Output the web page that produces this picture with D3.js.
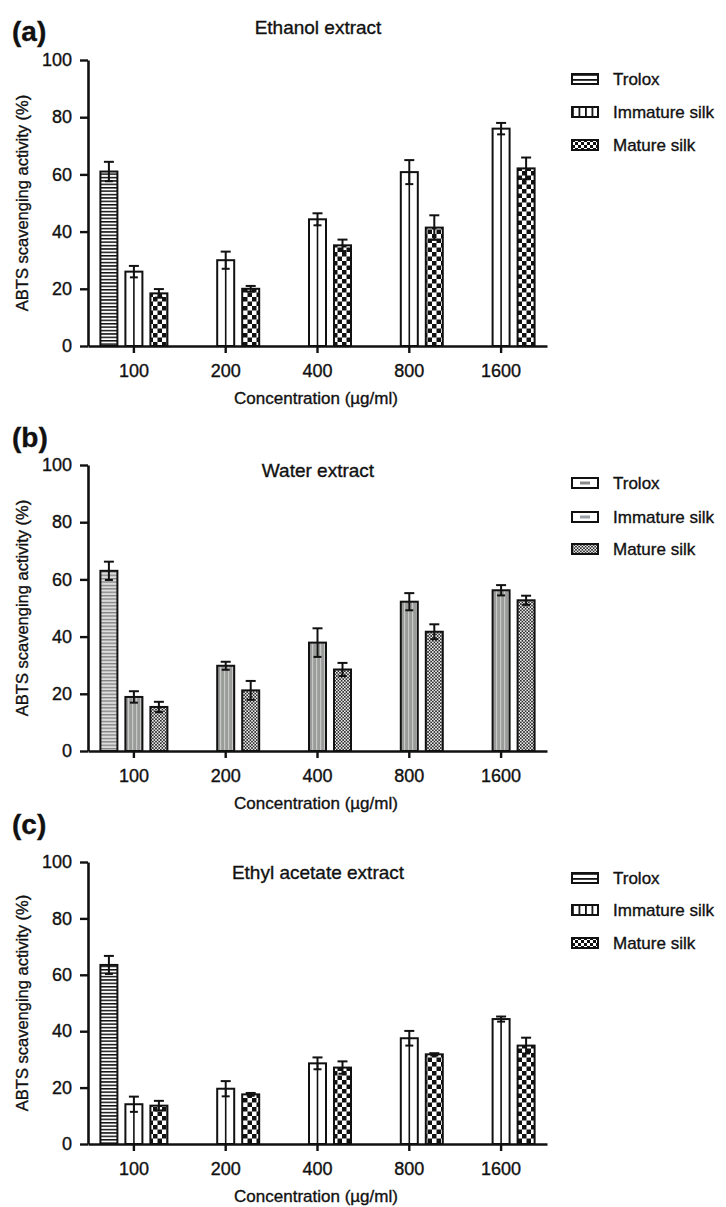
<!DOCTYPE html>
<html>
<head>
<meta charset="utf-8">
<script src="https://cdn.jsdelivr.net/npm/d3@7"></script>
<style>
  html, body { margin: 0; padding: 0; background: #fff; }
  svg { display: block; }
  text { font-family: "Liberation Sans", Arial, sans-serif; fill: #111; stroke: #111; stroke-width: 0.35px; }
</style>
</head>
<body>
<svg id="chart" width="726" height="1207"></svg>
<script>
// ---------------- DATA ----------------
const categories = ["100", "200", "400", "800", "1600"];
const series = ["Trolox", "Immature silk", "Mature silk"];
const yTicks = [0, 20, 40, 60, 80, 100];

// (a) Ethanol extract
const ethanolTrolox = [61, null, null, null, null];
const ethanolTroloxErr = [3.4, null, null, null, null];
const ethanolImmature = [26, 30, 44.3, 60.8, 76];
const ethanolImmatureErr = [2, 3, 2.1, 4.2, 2];
const ethanolMature = [18.4, 20, 35.2, 41.4, 62.1];
const ethanolMatureErr = [1.5, 1, 2, 4.3, 3.8];

// (b) Water extract
const waterTrolox = [63, null, null, null, null];
const waterTroloxErr = [3.2, null, null, null, null];
const waterImmature = [18.9, 29.8, 37.9, 52.2, 56.2];
const waterImmatureErr = [2, 1.4, 5, 3, 1.8];
const waterMature = [15.4, 21.2, 28.5, 41.7, 52.7];
const waterMatureErr = [1.8, 3.3, 2.3, 2.6, 1.6];

// (c) Ethyl acetate extract
const ethylTrolox = [63.5, null, null, null, null];
const ethylTroloxErr = [3.2, null, null, null, null];
const ethylImmature = [14.1, 19.6, 28.6, 37.5, 44.3];
const ethylImmatureErr = [2.7, 2.7, 2.1, 2.6, 0.9];
const ethylMature = [13.6, 17.6, 27.1, 31.8, 34.9];
const ethylMatureErr = [1.7, 0.5, 2.2, 0.4, 2.8];

const yLabel = "ABTS scavenging activity (%)";
const xLabel = "Concentration (µg/ml)";

// ---------------- PATTERNS ----------------
const svg = d3.select("#chart");
const defs = svg.append("defs");

function pat(id, w, h, build) {
  const p = defs.append("pattern").attr("id", id)
    .attr("patternUnits", "userSpaceOnUse").attr("width", w).attr("height", h);
  build(p);
}
pat("hstripe", 4, 3.4, p => {
  p.append("rect").attr("width", 4).attr("height", 3.4).attr("fill", "#fff");
  p.append("rect").attr("width", 4).attr("height", 1.5).attr("fill", "#111");
});
pat("hstripeLeg", 4, 5, p => {
  p.append("rect").attr("width", 4).attr("height", 5).attr("fill", "#fff");
  p.append("rect").attr("y", 0).attr("width", 4).attr("height", 1.8).attr("fill", "#111");
});
pat("vstripe", 6.5, 4, p => {
  p.append("rect").attr("width", 6.5).attr("height", 4).attr("fill", "#fff");
  p.append("rect").attr("width", 1.8).attr("height", 4).attr("fill", "#111");
});
pat("checker", 9, 9, p => {
  p.append("rect").attr("width", 9).attr("height", 9).attr("fill", "#fff");
  p.append("rect").attr("width", 4.5).attr("height", 4.5).attr("fill", "#111");
  p.append("rect").attr("x", 4.5).attr("y", 4.5).attr("width", 4.5).attr("height", 4.5).attr("fill", "#111");
});
pat("checkerLeg", 6, 6, p => {
  p.append("rect").attr("width", 6).attr("height", 6).attr("fill", "#fff");
  p.append("rect").attr("width", 3).attr("height", 3).attr("fill", "#111");
  p.append("rect").attr("x", 3).attr("y", 3).attr("width", 3).attr("height", 3).attr("fill", "#111");
});
pat("bTrolox", 4, 3.4, p => {
  p.append("rect").attr("width", 4).attr("height", 3.4).attr("fill", "#dcdcdc");
  p.append("rect").attr("width", 4).attr("height", 1.3).attr("fill", "#808080");
});
pat("bImm", 4, 4, p => {
  p.append("rect").attr("width", 4).attr("height", 4).attr("fill", "#9a9c9a");
  p.append("rect").attr("width", 1.2).attr("height", 4).attr("fill", "#c8c8c8");
});
pat("bMat", 3.2, 3.2, p => {
  p.append("rect").attr("width", 3.2).attr("height", 3.2).attr("fill", "#eeeeee");
  p.append("rect").attr("width", 1.6).attr("height", 1.6).attr("fill", "#2a2a2a");
  p.append("rect").attr("x", 1.6).attr("y", 1.6).attr("width", 1.6).attr("height", 1.6).attr("fill", "#2a2a2a");
});

// ---------------- PANELS ----------------
const panels = [
  { letter: "(a)", title: "Ethanol extract", top: 60, bottom: 346, titleY: 34, letterY: 41,
    values: [ethanolTrolox, ethanolImmature, ethanolMature],
    errors: [ethanolTroloxErr, ethanolImmatureErr, ethanolMatureErr],
    fills: ["url(#hstripe)", "#fff", "url(#checker)"], centerLine: true,
    legendY: [79, 112, 145], legendFills: ["url(#hstripeLeg)", "url(#vstripe)", "url(#checkerLeg)"], legendMark: false },
  { letter: "(b)", title: "Water extract", top: 465, bottom: 751, titleY: 477, letterY: 447,
    values: [waterTrolox, waterImmature, waterMature],
    errors: [waterTroloxErr, waterImmatureErr, waterMatureErr],
    fills: ["url(#bTrolox)", "url(#bImm)", "url(#bMat)"], centerLine: false,
    legendY: [483, 517, 549], legendFills: ["#fff", "#fff", "url(#bMat)"], legendMark: true },
  { letter: "(c)", title: "Ethyl acetate extract", top: 862, bottom: 1144, titleY: 879, letterY: 834,
    values: [ethylTrolox, ethylImmature, ethylMature],
    errors: [ethylTroloxErr, ethylImmatureErr, ethylMatureErr],
    fills: ["url(#hstripe)", "#fff", "url(#checker)"], centerLine: true,
    legendY: [878, 910, 943], legendFills: ["url(#hstripeLeg)", "url(#vstripe)", "url(#checkerLeg)"], legendMark: false }
];

const xLeft = 88, xRight = 547;
const x0 = d3.scaleBand().domain(categories).range([xLeft, xRight]);
const x1 = d3.scaleBand().domain(series).range([-37.5, 37.5]).paddingInner(0.32).paddingOuter(0.16);

panels.forEach(P => {
  const g = svg.append("g");
  const y = d3.scaleLinear().domain([0, 100]).range([P.bottom, P.top]);

  // letter & title
  g.append("text").attr("x", 12).attr("y", P.letterY).attr("font-size", 28)
    .attr("font-weight", "bold").text(P.letter);
  g.append("text").attr("x", 318).attr("y", P.titleY).attr("font-size", 19)
    .attr("text-anchor", "middle").text(P.title);

  // bars
  const rows = [];
  series.forEach((s, si) => {
    categories.forEach((c, ci) => {
      const v = P.values[si][ci];
      if (v === null || v === undefined) return;
      rows.push({ s, si, c, v, e: P.errors[si][ci] });
    });
  });
  const bx = d => x0(d.c) + x0.bandwidth() / 2 + x1(d.s);
  const bcx = d => bx(d) + x1.bandwidth() / 2;

  g.selectAll("rect.bar").data(rows).join("rect").attr("class", "bar")
    .attr("x", bx).attr("width", x1.bandwidth())
    .attr("y", d => y(d.v)).attr("height", d => y(0) - y(d.v))
    .attr("fill", d => P.fills[d.si]).attr("stroke", "#111").attr("stroke-width", 2);

  if (P.centerLine) {
    g.selectAll("line.cl").data(rows.filter(d => d.si === 1)).join("line").attr("class", "cl")
      .attr("x1", bcx).attr("x2", bcx).attr("y1", d => y(d.v)).attr("y2", y(0))
      .attr("stroke", "#111").attr("stroke-width", 1.6);
  }

  // error bars
  const eg = g.selectAll("g.err").data(rows).join("g").attr("class", "err")
    .attr("stroke", "#111").attr("stroke-width", 2);
  eg.append("line").attr("x1", bcx).attr("x2", bcx)
    .attr("y1", d => y(d.v - d.e)).attr("y2", d => y(d.v + d.e));
  eg.append("line").attr("x1", d => bcx(d) - 5).attr("x2", d => bcx(d) + 5)
    .attr("y1", d => y(d.v + d.e)).attr("y2", d => y(d.v + d.e));
  eg.append("line").attr("x1", d => bcx(d) - 4).attr("x2", d => bcx(d) + 4)
    .attr("y1", d => y(d.v - d.e)).attr("y2", d => y(d.v - d.e));

  // axes
  const ya = g.append("g").attr("transform", `translate(${xLeft},0)`)
    .call(d3.axisLeft(y).tickValues(yTicks).tickSize(8).tickSizeOuter(0).tickPadding(8));
  const xa = g.append("g").attr("transform", `translate(0,${P.bottom})`)
    .call(d3.axisBottom(x0).tickSize(7).tickSizeOuter(0).tickPadding(11));
  [ya, xa].forEach(a => {
    a.select(".domain").attr("stroke", "#111").attr("stroke-width", 2.6);
    a.selectAll(".tick line").attr("stroke", "#111").attr("stroke-width", 2.4);
    a.selectAll(".tick text").attr("font-size", 18).attr("fill", "#111")
      .attr("font-family", "Liberation Sans, Arial, sans-serif");
  });

  // axis labels
  g.append("text").attr("transform", `translate(28,${(P.top + P.bottom) / 2}) rotate(-90)`)
    .attr("text-anchor", "middle").attr("font-size", 16.5).text(yLabel);
  g.append("text").attr("x", 316).attr("y", P.bottom + 58)
    .attr("text-anchor", "middle").attr("font-size", 17).text(xLabel);

  // legend
  const lg = g.selectAll("g.leg").data(series).join("g").attr("class", "leg")
    .attr("transform", (d, i) => `translate(572,${P.legendY[i]})`);
  lg.append("rect").attr("x", 0).attr("y", -5).attr("width", 26).attr("height", 10)
    .attr("fill", (d, i) => P.legendFills[i]).attr("stroke", "#111").attr("stroke-width", 2);
  if (P.legendMark) {
    lg.filter((d, i) => i < 2).append("rect").attr("x", 8).attr("y", -1.5)
      .attr("width", 10).attr("height", 3).attr("fill", (d, i) => i === 0 ? "#8a8a8a" : "#9aa0a8");
  }
  lg.append("text").attr("x", 41).attr("y", 6).attr("font-size", 17).text(d => d);
});
</script>
</body>
</html>
